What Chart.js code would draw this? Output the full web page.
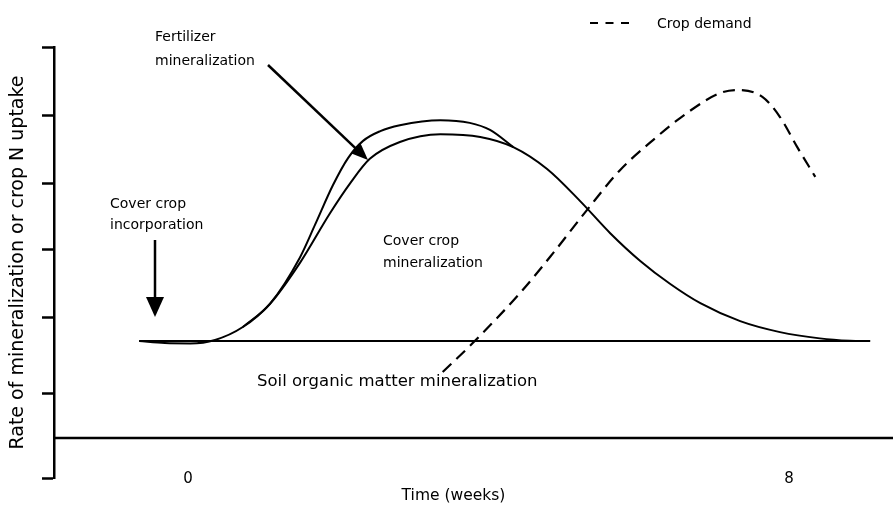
<!DOCTYPE html>
<html>
<head>
<meta charset="utf-8">
<script src="https://cdn.jsdelivr.net/npm/chart.js@4/dist/chart.umd.min.js"></script>
<style>
    body { margin: 0; background: #fff; }
    #wrap { width: 893px; height: 508px; position: relative; }
</style>
</head>
<body>
<div id="wrap"><canvas id="chart"></canvas></div>
<script>
// time in weeks, rate in arbitrary units (0 = x axis line)
const coverX = [-0.65, -0.31, 0.03, 0.36, 0.73, 1.09, 1.49, 1.89, 2.16, 2.42, 2.82, 3.36, 3.89, 4.33, 4.78, 5.22, 5.62, 6.02, 6.42, 6.82, 7.35, 7.88, 8.41, 8.81, 9.08];
const coverY = [24.8, 24.3, 24.2, 25.1, 28.4, 34.3, 44.8, 57.5, 65.2, 71.4, 75.7, 77.7, 77.0, 74.4, 68.8, 60.6, 52.4, 45.3, 39.4, 34.5, 29.9, 27.1, 25.5, 24.9, 24.8];

const fertX = [0.73, 1.09, 1.49, 1.69, 1.93, 2.13, 2.33, 2.56, 2.82, 3.36, 3.75, 4.02, 4.33];
const fertY = [28.4, 34.3, 46.2, 54.5, 64.7, 71.6, 76.0, 78.5, 80.0, 81.3, 80.6, 78.8, 74.4];

const soilX = [-0.65, 9.08];
const soilY = [24.8, 24.8];

const demandX = [3.39, 3.79, 4.42, 4.86, 5.31, 5.75, 6.19, 6.64, 7.08, 7.31, 7.65, 7.88, 8.11, 8.35];
const demandY = [16.9, 24.3, 37.1, 47.3, 58.3, 68.5, 76.2, 83.1, 88.2, 89.0, 87.2, 82.1, 74.4, 66.8];

const xTicks = [0, 8];
const yTicks = [-10.2, 11.5, 30.9, 48.1, 65.2, 82.6, 100];

const toPoints = (xs, ys) => xs.map((x, i) => ({ x: x, y: ys[i] }));
const FONT = 'DejaVu Sans';

function arrow(ctx, x1, y1, x2, y2, headLen, headHalf) {
    const a = Math.atan2(y2 - y1, x2 - x1);
    const bx = x2 - headLen * Math.cos(a);
    const by = y2 - headLen * Math.sin(a);
    ctx.beginPath();
    ctx.moveTo(x1, y1);
    ctx.lineTo(bx, by);
    ctx.stroke();
    ctx.beginPath();
    ctx.moveTo(x2, y2);
    ctx.lineTo(bx + headHalf * Math.sin(a), by - headHalf * Math.cos(a));
    ctx.lineTo(bx - headHalf * Math.sin(a), by + headHalf * Math.cos(a));
    ctx.closePath();
    ctx.fill();
}

// axis line at zero, text notes, arrows and the dashed key
const notes = {
    id: 'notes',
    afterDatasetsDraw(chart) {
        const ctx = chart.ctx;
        const y0 = chart.scales.y.getPixelForValue(0);
        ctx.save();
        ctx.strokeStyle = '#000';
        ctx.fillStyle = '#000';
        ctx.lineWidth = 2.5;
        ctx.beginPath();
        ctx.moveTo(chart.chartArea.left, y0);
        ctx.lineTo(chart.width, y0);
        ctx.stroke();

        ctx.lineWidth = 2.5;
        arrow(ctx, 268, 65, 368, 160, 17, 7);
        arrow(ctx, 155, 240, 155, 317, 20, 9);

        ctx.textBaseline = 'alphabetic';
        ctx.textAlign = 'left';
        ctx.font = '14px "' + FONT + '"';
        ctx.fillText('Fertilizer', 155, 41);
        ctx.fillText('mineralization', 155, 65);
        ctx.fillText('Cover crop', 110, 208);
        ctx.fillText('incorporation', 110, 229);
        ctx.fillText('Cover crop', 383, 245);
        ctx.fillText('mineralization', 383, 267);
        ctx.font = '16.5px "' + FONT + '"';
        ctx.fillText('Soil organic matter mineralization', 257, 386);

        // key
        ctx.lineWidth = 2.2;
        ctx.setLineDash([8, 7.5]);
        ctx.beginPath();
        ctx.moveTo(590, 23);
        ctx.lineTo(630, 23);
        ctx.stroke();
        ctx.setLineDash([]);
        ctx.font = '14px "' + FONT + '"';
        ctx.fillText(chart.data.datasets[3].label, 657, 28);
        ctx.restore();
    }
};

const lineStyle = {
    borderColor: '#000',
    borderWidth: 2,
    pointRadius: 0,
    fill: false,
    clip: false,
    cubicInterpolationMode: 'monotone'
};

new Chart(document.getElementById('chart'), {
    type: 'line',
    data: {
        datasets: [
            Object.assign({ label: 'Cover crop mineralization', data: toPoints(coverX, coverY) }, lineStyle),
            Object.assign({ label: 'Fertilizer mineralization', data: toPoints(fertX, fertY) }, lineStyle),
            Object.assign({ label: 'Soil organic matter mineralization', data: toPoints(soilX, soilY) }, lineStyle),
            Object.assign({ label: 'Crop demand', data: toPoints(demandX, demandY) }, lineStyle, { borderDash: [12, 7], borderWidth: 2.2 })
        ]
    },
    options: {
        responsive: true,
        maintainAspectRatio: false,
        animation: false,
        layout: { padding: { top: 47, right: 40, left: 0, bottom: 0 } },
        plugins: { legend: { display: false }, tooltip: { enabled: false } },
        scales: {
            x: {
                type: 'linear',
                min: -1.784,
                max: 8.852,
                afterBuildTicks: scale => { scale.ticks = xTicks.map(v => ({ value: v })); },
                afterFit: scale => { scale.height = 30; },
                grid: { display: false, drawTicks: false },
                border: { display: false },
                ticks: { mirror: true, padding: -10, color: '#000', font: { family: FONT, size: 15 } },
                title: { display: true, text: 'Time (weeks)', color: '#000', padding: { top: 0, bottom: 3 }, font: { family: FONT, size: 15.5 } }
            },
            y: {
                min: -10.2,
                max: 100,
                afterBuildTicks: scale => { scale.ticks = yTicks.map(v => ({ value: v })); },
                afterFit: scale => { scale.width = 54; },
                grid: { display: true, drawOnChartArea: false, drawTicks: true, tickLength: 12, tickColor: '#000', tickWidth: 2.5 },
                border: { display: true, color: '#000', width: 2.5 },
                ticks: { callback: () => '' },
                title: { display: true, text: 'Rate of mineralization or crop N uptake', color: '#000', padding: { top: 7, bottom: 0 }, font: { family: FONT, size: 19 } }
            }
        }
    },
    plugins: [notes]
});
</script>
</body>
</html>
